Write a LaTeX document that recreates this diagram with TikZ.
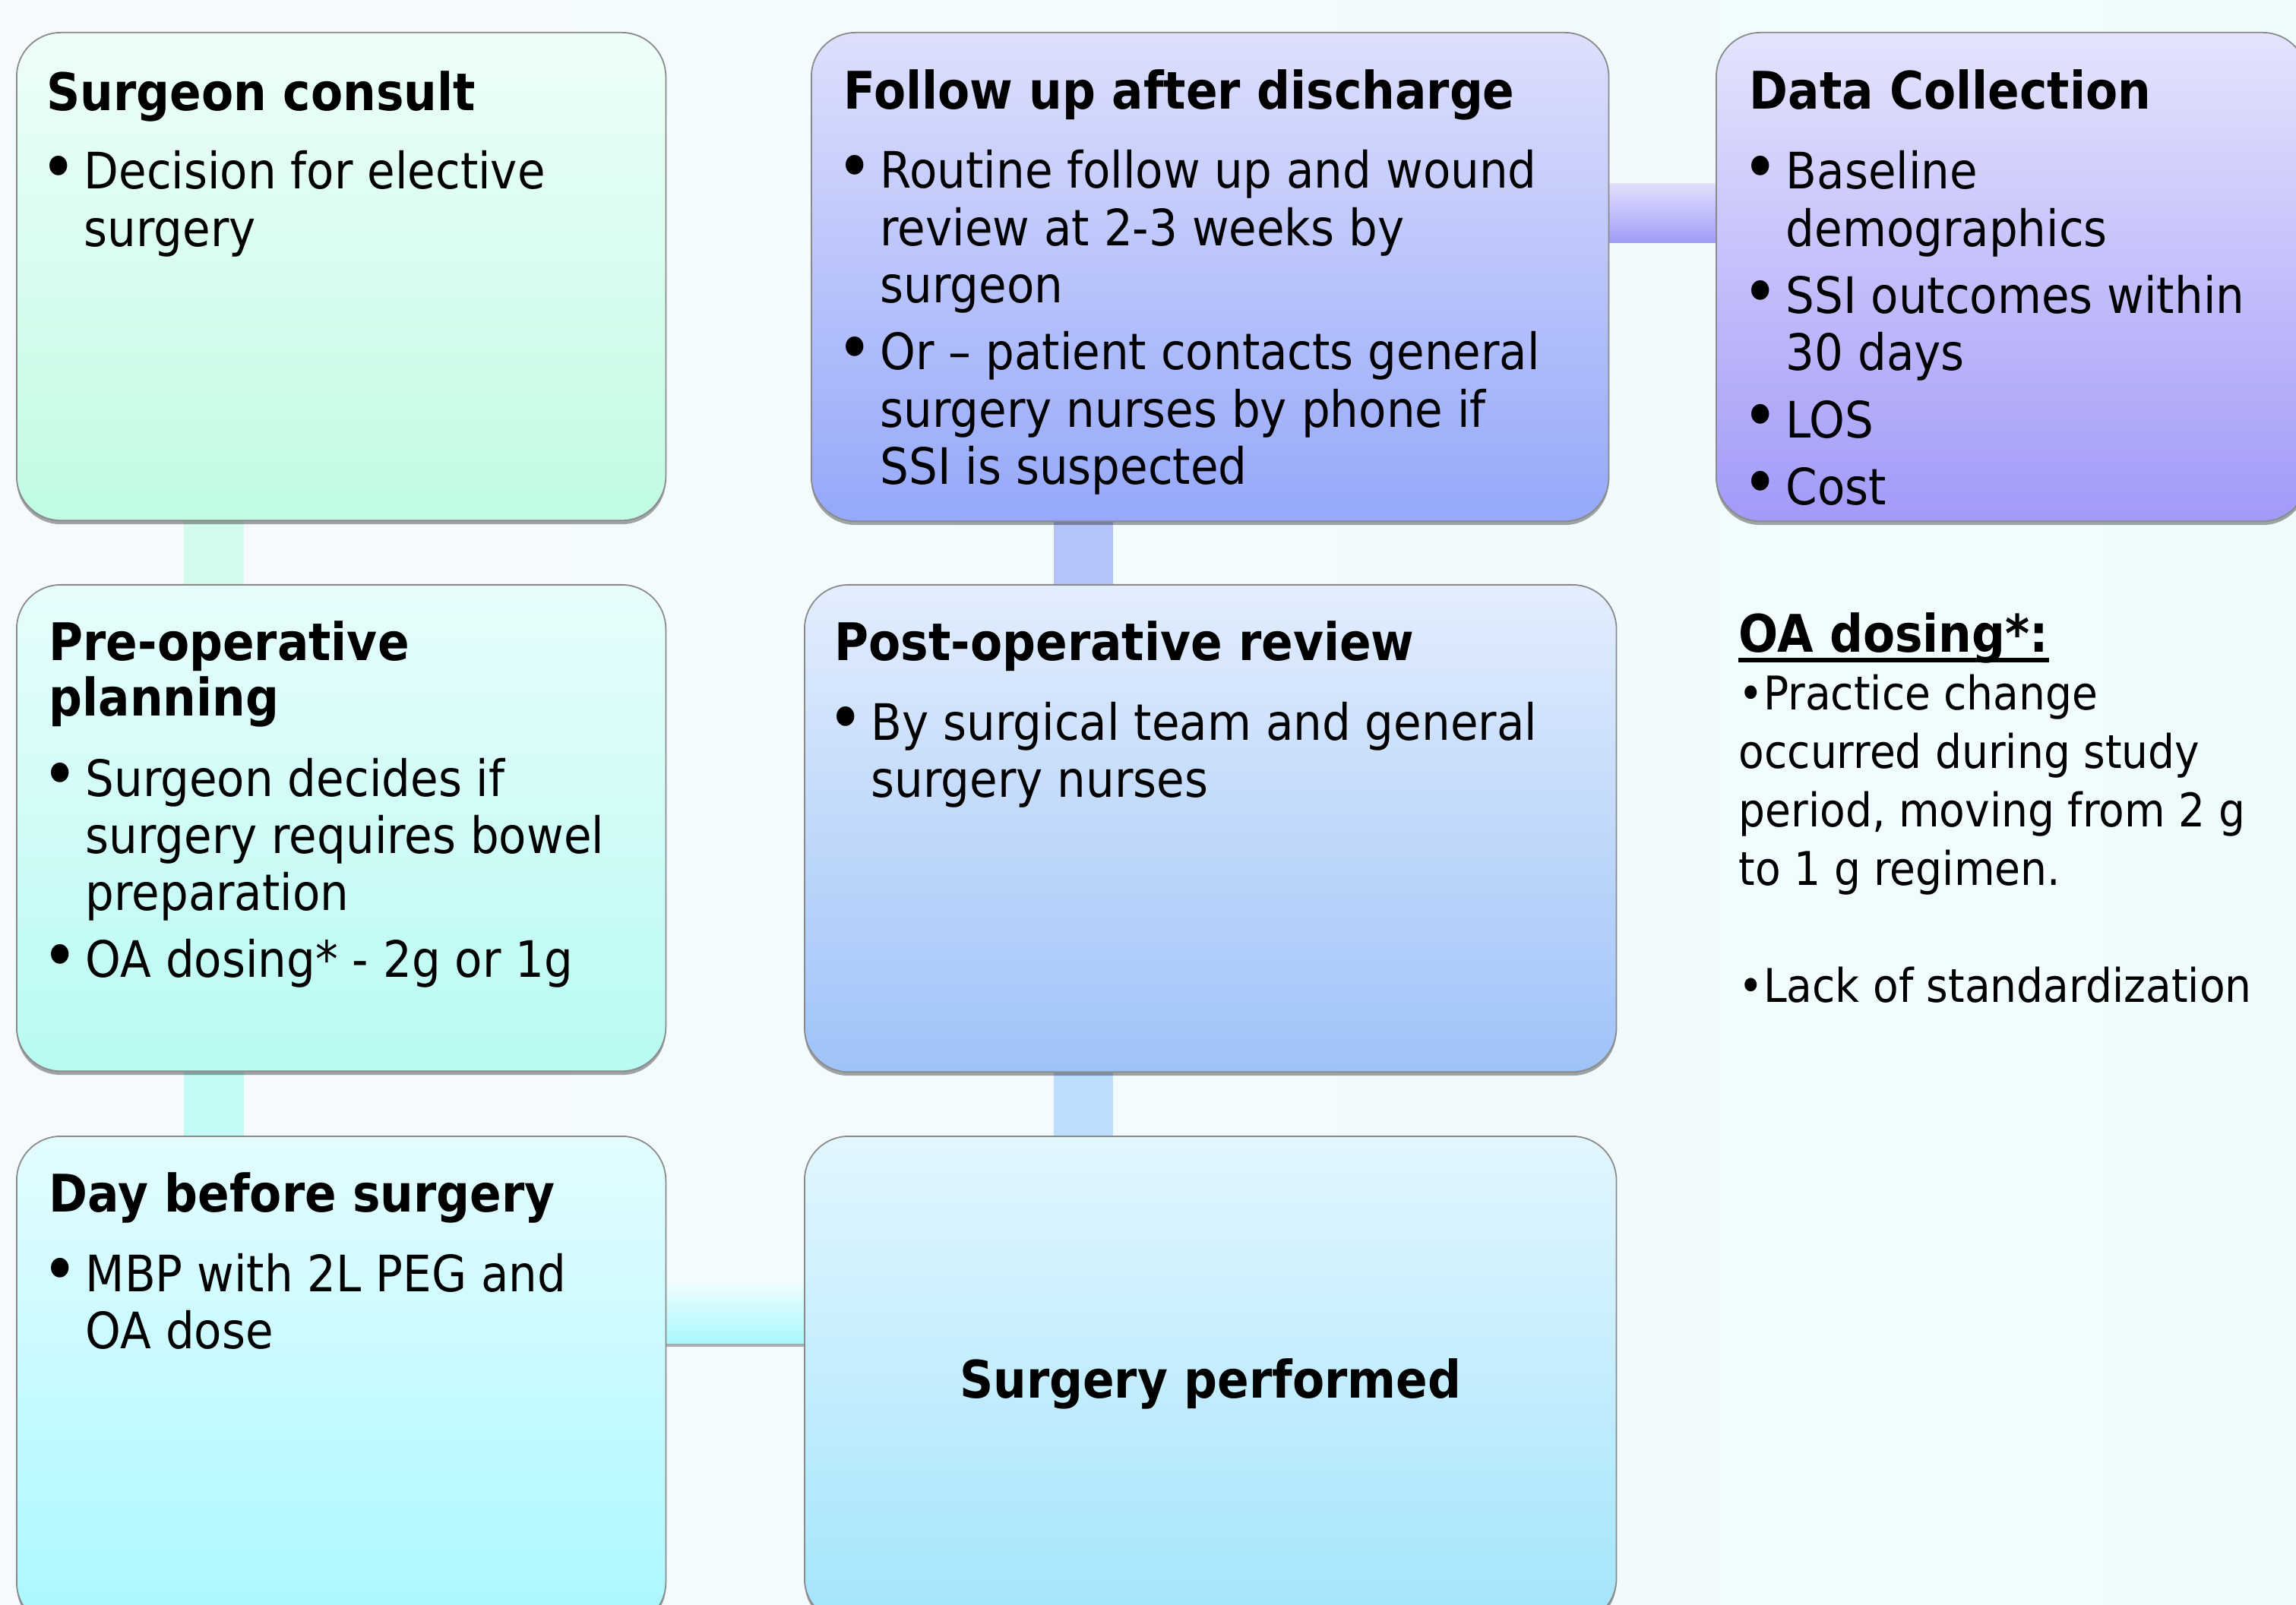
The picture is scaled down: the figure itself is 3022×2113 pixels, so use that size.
\documentclass[tikz,border=0pt]{standalone}
\usepackage{fontspec}
\setmainfont{DejaVu Sans}[FakeStretch=0.9]
\usepackage{graphicx}
\usetikzlibrary{calc,shadows}
\pgfdeclarelayer{bglayer}
\pgfdeclarelayer{conlayer}
\pgfsetlayers{bglayer,conlayer,main}

\definecolor{bgL}{HTML}{F5FAFE}
\definecolor{bgR}{HTML}{EFFCFD}
\definecolor{scT}{HTML}{EEFEF8}\definecolor{scB}{HTML}{C0FBE3}
\definecolor{ppT}{HTML}{E7FDFC}\definecolor{ppB}{HTML}{B8FAF2}
\definecolor{dbT}{HTML}{E3FCFF}\definecolor{dbB}{HTML}{AAF8FF}
\definecolor{fuT}{HTML}{DDDFFC}\definecolor{fuB}{HTML}{95A8FA}
\definecolor{poT}{HTML}{E3EEFD}\definecolor{poB}{HTML}{9EC3F8}
\definecolor{spT}{HTML}{E2F6FE}\definecolor{spB}{HTML}{A4E4FC}
\definecolor{dcT}{HTML}{E4E4FD}\definecolor{dcB}{HTML}{A29AF8}
\definecolor{conA}{HTML}{D4FCEE}
\definecolor{conB}{HTML}{C4FAF6}
\definecolor{conCT}{HTML}{EEFDFE}\definecolor{conCB}{HTML}{A9F8FC}
\definecolor{conD}{HTML}{BCDDFB}
\definecolor{conE}{HTML}{B5C3FB}
\definecolor{conFT}{HTML}{E1DFFC}\definecolor{conFB}{HTML}{9F9CF8}
\definecolor{edge}{HTML}{8A8A8A}

\newlength\hangw \setlength\hangw{16.2pt}
\newcommand\bulg{\raisebox{-0.04em}{\scalebox{1.35}{\textbullet}}}
\newcommand\bul[1]{\par\hangindent=\hangw\hangafter=1\noindent\makebox[\hangw][l]{\bulg}#1\par}
\newcommand\bgap{\vspace{3.7pt}}
\newcommand\ttlfont{\fontsize{19.4pt}{21pt}\selectfont\bfseries}
\newcommand\bodyfont{\fontsize{18.8pt}{21.4pt}\selectfont}
\newcommand\oafont{\fontsize{17.4pt}{21.9pt}\selectfont}

\tikzset{
  box/.style={draw=edge, line width=0.5pt, rounded corners=0.58cm, inner sep=0pt,
    anchor=north west,
    drop shadow={shadow xshift=0pt, shadow yshift=-1.4pt, opacity=0.35, fill=black}},
  ttl/.style={inner sep=0pt, anchor=base west, font=\ttlfont},
  txt/.style={inner sep=0pt, anchor=base west, font=\bodyfont},
}

\begin{document}
\begin{tikzpicture}[x=0.01cm,y=-0.01cm]
\useasboundingbox (0,0) rectangle (3022,2113);
\begin{pgfonlayer}{bglayer}
  \fill[left color=bgL, right color=bgR] (0,0) rectangle (3022,2113);
\end{pgfonlayer}

% boxes
\node[box, minimum width=8.54cm, minimum height=6.42cm, top color=scT, bottom color=scB] (sc) at (21,42) {};
\node[box, minimum width=8.54cm, minimum height=6.40cm, top color=ppT, bottom color=ppB] (pp) at (21,769) {};
\node[box, minimum width=8.54cm, minimum height=6.45cm, top color=dbT, bottom color=dbB] (db) at (21,1495) {};
\node[box, minimum width=10.49cm, minimum height=6.43cm, top color=fuT, bottom color=fuB] (fu) at (1067,42) {};
\node[box, minimum width=10.68cm, minimum height=6.41cm, top color=poT, bottom color=poB] (po) at (1058,769) {};
\node[box, minimum width=10.68cm, minimum height=6.40cm, top color=spT, bottom color=spB] (sp) at (1058,1495) {};
\node[box, minimum width=7.77cm, minimum height=6.43cm, top color=dcT, bottom color=dcB] (dc) at (2258,42) {};

% connectors
\begin{pgfonlayer}{conlayer}
  \fill[conA] ($(sc.south west)+(221,-5)$) rectangle ($(pp.north west)+(300,5)$);
  \fill[conB] ($(pp.south west)+(221,-5)$) rectangle ($(db.north west)+(300,5)$);
  \fill[top color=conCT, bottom color=conCB, drop shadow={shadow xshift=0pt, shadow yshift=-1.3pt, opacity=0.3, fill=black}]
    ($(db.north east)+(-5,195)$) rectangle ($(sp.north west)+(5,273)$);
  \fill[conD] ($(po.south west)+(329,-5)$) rectangle ($(sp.north west)+(407,5)$);
  \fill[conE] ($(fu.south west)+(320,-5)$) rectangle ($(po.north west)+(407,5)$);
  \fill[top color=conFT, bottom color=conFB] ($(fu.north east)+(-5,200)$) rectangle ($(dc.north west)+(5,278)$);
\end{pgfonlayer}

% texts
\node[ttl] (sct) at ($(sc.north west)+(40,104)$) {Surgeon consult};
\node[txt] (scb) at ($(sc.north west)+(32,207)$) {\parbox[t]{12cm}{\bul{Decision for elective\\surgery}}};

\node[ttl] (ppt) at ($(pp.north west)+(43,100)$) {\parbox[t]{12cm}{Pre-operative\\planning}};
\node[txt] (ppb) at ($(pp.north west)+(34,279)$) {\parbox[t]{12cm}{\bul{Surgeon decides if\\surgery requires bowel\\preparation}\bgap\bul{OA dosing* - 2g or 1g}}};

\node[ttl] (dbt) at ($(db.north west)+(43,100)$) {Day before surgery};
\node[txt] (dbb) at ($(db.north west)+(34,205)$) {\parbox[t]{12cm}{\bul{MBP with 2L PEG and\\OA dose}}};

\node[ttl] (fut) at ($(fu.north west)+(43,102)$) {Follow up after discharge};
\node[txt] (fub) at ($(fu.north west)+(34,206)$) {\parbox[t]{12cm}{\bul{Routine follow up and wound\\review at 2-3 weeks by\\surgeon}\bgap\bul{Or – patient contacts general\\surgery nurses by phone if\\SSI is suspected}}};

\node[ttl] (pot) at ($(po.north west)+(40,100)$) {Post-operative review};
\node[txt] (pob) at ($(po.north west)+(31,205)$) {\parbox[t]{12cm}{\bul{By surgical team and general\\surgery nurses}}};

\node[ttl, anchor=base] (spt) at ($(sp.center)+(0,24)$) {Surgery performed};

\node[ttl] (dct) at ($(dc.north west)+(44,102)$) {Data Collection};
\node[txt] (dcb) at ($(dc.north west)+(35,207)$) {\parbox[t]{12cm}{\bul{Baseline\\demographics}\bgap\bul{SSI outcomes within\\30 days}\bgap\bul{LOS}\bgap\bul{Cost}}};

\node[ttl] (oat) at (2288,858) {OA dosing*:};
\draw[line width=1.8pt] ([yshift=-3.2pt]oat.base west) -- ([yshift=-3.2pt]oat.base east);
\node[txt, font=\oafont] (oab) at (2288,934) {\parbox[t]{8cm}{\textbullet Practice change\\occurred during study\\period, moving from 2 g\\to 1 g regimen.\\[21.9pt]\textbullet Lack of standardization}};
\end{tikzpicture}
\end{document}
